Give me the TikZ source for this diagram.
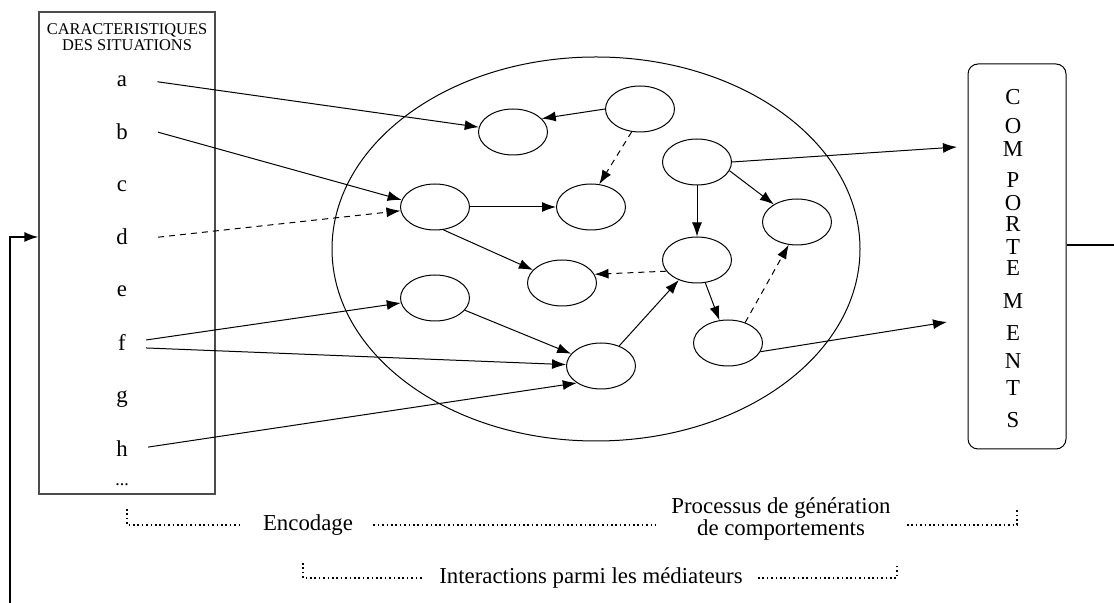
\documentclass[tikz,border=0pt]{standalone}
\usepackage{fontspec}
\setmainfont{Liberation Serif}
\usetikzlibrary{shapes.geometric,arrows.meta}

\begin{document}
\begin{tikzpicture}[x=0.5pt,y=-0.5pt,
  mediateur/.style={ellipse,draw,line width=0.5pt,minimum width=34.5pt,minimum height=23pt,inner sep=0pt},
  lien/.style={line width=0.5pt,-{Latex[length=7pt,width=5pt]}},
  lienpt/.style={lien,dash pattern=on 3pt off 2.5pt},
  lettre/.style={font=\fontsize{11.4}{13}\selectfont,inner sep=0pt},
  legende/.style={font=\fontsize{11.4}{10}\selectfont,align=center,inner ysep=0pt},
  borne/.style={dash pattern=on 0.8pt off 1.4pt,line width=0.8pt}]
  \useasboundingbox (0,0) rectangle (1114,603);

  \node [draw=black!70,line width=0.6pt,minimum width=88pt,minimum height=241pt,inner sep=0pt] (sit) at (127,253) {};
  \node [font=\fontsize{8.2}{8}\selectfont,align=center] (titre) at (127,37) {CARACTERISTIQUES\\DES SITUATIONS};
  \foreach \l/\y in {a/87,b/140,c/192,d/245,e/297,f/351,g/403,h/457}
    \node [lettre,anchor=base] (l-\l) at (122,\y) {\l};
  \node [lettre,font=\fontsize{9}{9}\selectfont,anchor=base] (l-etc) at (122,486) {...};

  \node [draw,rounded corners=5pt,line width=0.5pt,minimum width=49pt,minimum height=192.5pt,inner sep=0pt] (comp) at (1017,256.5) {};
  \foreach \l/\y [count=\i] in {C/97,O/126,M/149,P/180,O/203,R/224,T/247,E/268,M/301,E/333,N/361,T/388,S/420}
    \node [lettre] (c-\i) at (1013,\y) {\l};

  \node [ellipse,draw,line width=0.5pt,minimum width=264pt,minimum height=192pt,inner sep=0pt] (med) at (596,249) {};
  \node [mediateur] (m1) at (513,132) {};
  \node [mediateur] (m2) at (640,109) {};
  \node [mediateur] (m3) at (697,162) {};
  \node [mediateur] (m4) at (435,207) {};
  \node [mediateur] (m5) at (591,207) {};
  \node [mediateur] (m6) at (562,283) {};
  \node [mediateur] (m7) at (697,260) {};
  \node [mediateur] (m8) at (797,222) {};
  \node [mediateur] (m9) at (435,298) {};
  \node [mediateur] (m10) at (601,366) {};
  \node [mediateur] (m11) at (728,343) {};
  \coordinate (s1) at (957,147);
  \coordinate (s2) at (947,322);

  \draw [lien] ([xshift=15pt]l-a.east) -- (m1);
  \draw [lien] ([xshift=15pt]l-b.east) -- (m4.168);
  \draw [lienpt] ([xshift=15pt]l-d.east) -- (m4);
  \draw [lien] ([shift={(10pt,1.5pt)}]l-f.east) -- (m9);
  \draw [lien] ([shift={(10pt,-2.5pt)}]l-f.east) -- (m10);
  \draw [lien] ([shift={(10pt,1pt)}]l-h.east) -- (m10.215);
  \draw [lien] (m2.west) -- (m1.25);
  \draw [lienpt] (m2.250) -- (m5.70);
  \draw [lien] (m4) -- (m5);
  \draw [lien] (m4.290) -- (m6);
  \draw [lien] (m3) -- (m7);
  \draw [lien] (m3.345) -- (m8);
  \draw [lien] (m3.east) -- (s1);
  \draw [lienpt] (m7.200) -- (m6.15);
  \draw [lien] (m7.290) -- (m11);
  \draw [lienpt] (m11.50) -- (m8.250);
  \draw [lien] (m11.345) -- (s2);
  \draw [lien] (m9) -- (m10);
  \draw [lien] (m10) -- (m7);

  \coordinate (fb-d) at (1114,245);
  \coordinate (fb-b) at (10,603);
  \coordinate (fb-g) at (10,237);
  \draw [line width=0.6pt] (comp.east |- fb-d) -- (fb-d);
  \draw [line width=0.8pt,-{Latex[length=7pt,width=5pt]}] (fb-b) -- (fb-g) -- (sit.west |- fb-g);

  \node [legende,inner xsep=10pt] (enc) at (308,525) {Encodage};
  \node [legende,inner xsep=8pt] (gen) at (781,519) {Processus de génération\\de comportements};
  \node [legende,inner xsep=7.5pt] (inter) at (591,578) {Interactions parmi les médiateurs};
  \coordinate (b1g) at (127,509);
  \coordinate (b1d) at (1017,509);
  \coordinate (b2g) at (303,563);
  \coordinate (b2d) at (897,563);
  \draw [borne] (b1g) |- (enc.west);
  \draw [borne] (enc.east) -- (gen.west |- enc.east);
  \draw [borne] (gen.east |- enc.east) -| (b1d);
  \draw [borne] (b2g) |- (inter.west);
  \draw [borne] (inter.east) -| (b2d);
\end{tikzpicture}
\end{document}
